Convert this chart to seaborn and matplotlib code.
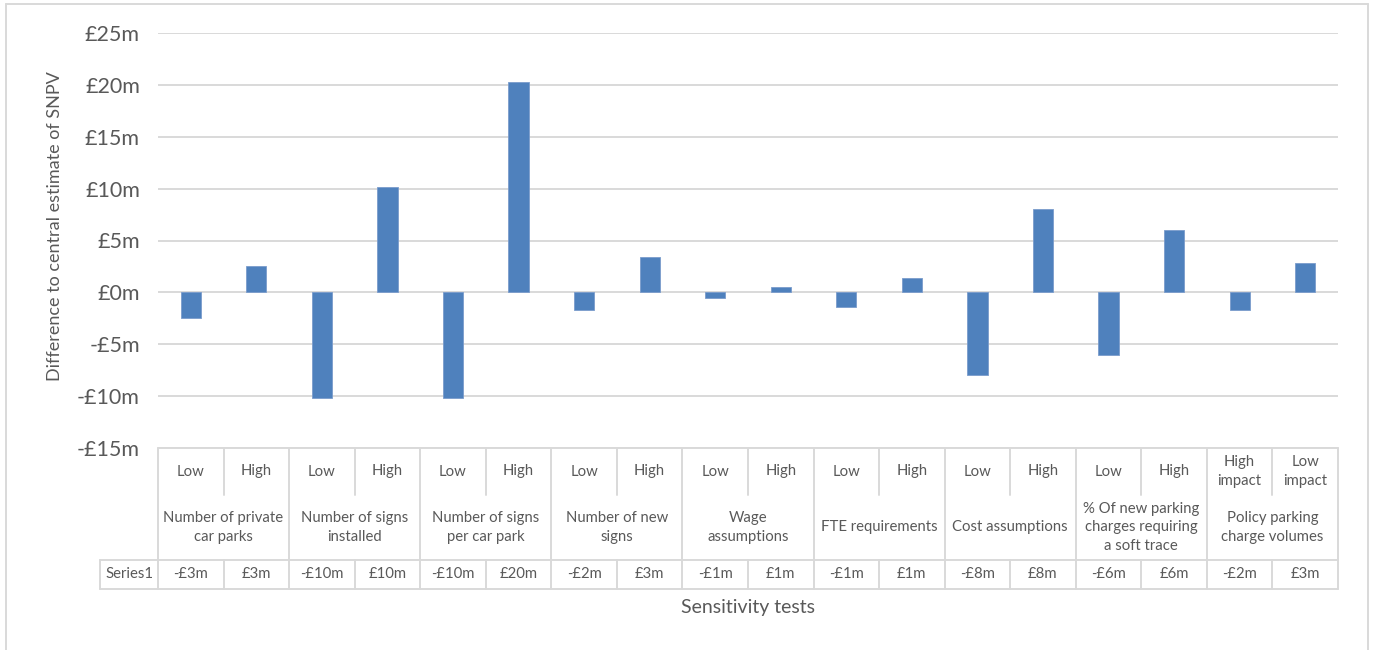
import math
import matplotlib
matplotlib.use("Agg")
import matplotlib.pyplot as plt
from matplotlib.transforms import blended_transform_factory
from matplotlib.lines import Line2D
import seaborn as sns
import pandas as pd

# Sensitivity test groups and the Low/High variant of each
groups = [
    "Number of private\ncar parks",
    "Number of signs\ninstalled",
    "Number of signs\nper car park",
    "Number of new\nsigns",
    "Wage\nassumptions",
    "FTE requirements",
    "Cost assumptions",
    "% Of new parking\ncharges requiring\na soft trace",
    "Policy parking\ncharge volumes",
]
levels = ["Low", "High"] * 8 + ["High\nimpact", "Low\nimpact"]

# Difference to central SNPV estimate, £m
values = [-2.5, 2.5, -10.2, 10.2, -10.2, 20.3, -1.7, 3.4, -0.55, 0.5,
          -1.4, 1.4, -8.0, 8.0, -6.0, 6.0, -1.7, 2.8]

series_name = "Series1"
y_ticks = [-15, -10, -5, 0, 5, 10, 15, 20, 25]

BAR = "#4F81BD"
GRID = "#d9d9d9"
TXT = "#595959"

sns.set_style("white")
plt.rcParams["font.family"] = ["Lato", "DejaVu Sans"]

W, H = 1375, 650
fig = plt.figure(figsize=(W / 100, H / 100), dpi=100)

# plot area in pixels
px_l, px_r, px_t, px_b = 158, 1338, 33, 448
ax = fig.add_axes([px_l / W, 1 - px_b / H, (px_r - px_l) / W, (px_b - px_t) / H])

keys = [f"{groups[i // 2]}|{levels[i]}" for i in range(len(values))]
df = pd.DataFrame({"test": keys, "value": values})

sns.barplot(data=df, x="test", y="value", order=keys, color=BAR,
            saturation=1, width=0.31, edgecolor="#7a9ccc", linewidth=0.6,
            ax=ax, zorder=3)

ax.set_xlim(-0.5, len(values) - 0.5)
ax.set_ylim(y_ticks[0], y_ticks[-1])
ax.set_yticks(y_ticks)


def money(v):
    n = int(math.floor(abs(v) + 0.5))
    return ("-" if v < 0 and n != 0 else "") + f"£{n}m"


ax.set_yticklabels([money(t) for t in y_ticks], color=TXT, fontsize=15.5)
ax.tick_params(axis="y", length=0, pad=13)
ax.set_xticks([])
ax.set_xlabel("")
ax.set_ylabel("Difference to central estimate of SNPV", color=TXT,
              fontsize=13)
ax.yaxis.set_label_coords((63 - px_l) / (px_r - px_l), (px_b - 226) / (px_b - px_t))
for s in ax.spines.values():
    s.set_visible(False)
ax.yaxis.grid(True, color=GRID, linewidth=1.4, zorder=0)
ax.set_axisbelow(True)

# data table under the plot area
tr = blended_transform_factory(ax.transData, ax.transAxes)


def ya(py):
    return (px_b - py) / (px_b - px_t)


def xd(px):
    return (px - px_l) / ((px_r - px_l) / len(values)) - 0.5


def hline(x0, x1, py):
    ax.add_line(Line2D([x0, x1], [ya(py), ya(py)], transform=tr, color=GRID,
                       linewidth=1.4, clip_on=False))


def vline(x, py0, py1):
    ax.add_line(Line2D([x, x], [ya(py0), ya(py1)], transform=tr, color=GRID,
                       linewidth=1.4, clip_on=False))


r0, r1, r2, r3 = 448, 495, 560, 589
x_left = -0.5
x_right = len(values) - 0.5
x_series = xd(100)

hline(x_left, x_right, r0)
hline(x_series, x_right, r2)
hline(x_series, x_right, r3)
vline(x_series, r2, r3)
for i in range(len(values) + 1):
    x = i - 0.5
    if i % 2 == 0:
        vline(x, r0, r3)
    else:
        vline(x, r0, r1)
        vline(x, r2, r3)

fs_tab = 10.7
for i, (lv, v) in enumerate(zip(levels, values)):
    ax.text(i, ya((r0 + r1) / 2), lv, transform=tr, ha="center", va="center",
            color=TXT, fontsize=fs_tab, linespacing=1.5, clip_on=False)
    ax.text(i, ya((r2 + r3) / 2), money(v), transform=tr, ha="center",
            va="center", color=TXT, fontsize=fs_tab, clip_on=False)
for g, name in enumerate(groups):
    ax.text(2 * g + 0.5, ya((r1 + r2) / 2), name, transform=tr, ha="center",
            va="center", color=TXT, fontsize=fs_tab, linespacing=1.45,
            clip_on=False)
ax.text((x_series - 0.5) / 2, ya((r2 + r3) / 2), series_name, transform=tr,
        ha="center", va="center", color=TXT, fontsize=fs_tab, clip_on=False)

ax.text((x_left + x_right) / 2, ya(608), "Sensitivity tests", transform=tr,
        ha="center", va="center", color=TXT, fontsize=14, clip_on=False)

# chart area border
for xs, ys in [([6, 6], [4, 650]), ([6, 1368], [4, 4]), ([1368, 1368], [4, 650])]:
    fig.add_artist(Line2D([x / W for x in xs], [1 - y / H for y in ys],
                          color=GRID, linewidth=1.4))

fig.savefig("out.png", dpi=100, facecolor="white")
